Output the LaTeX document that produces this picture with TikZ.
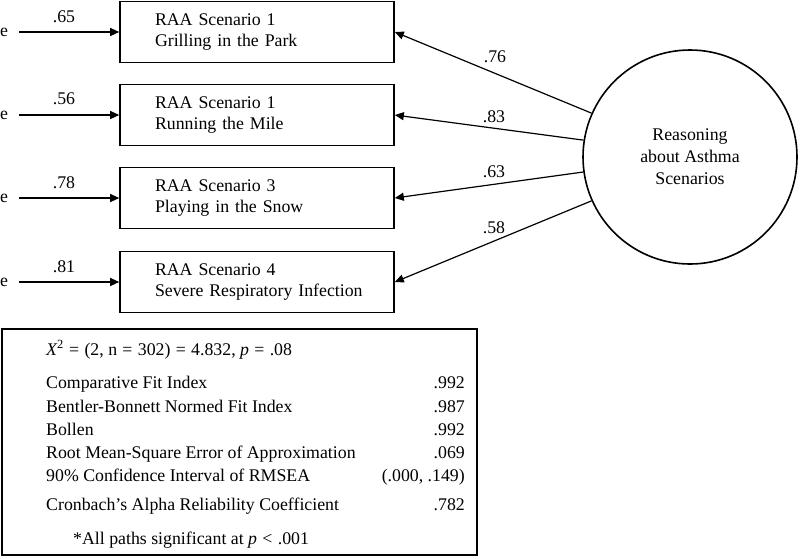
\documentclass[tikz,border=0pt]{standalone}
\usepackage{fontspec}
\setmainfont{Liberation Serif}
\usetikzlibrary{arrows.meta}
\begin{document}
\begin{tikzpicture}[x=1pt,y=-1pt,
  txt/.style={font=\fontsize{17.8}{21}\selectfont, inner sep=0pt},
  scen/.style={draw, line width=1.6pt, minimum width=274pt, minimum height=61pt, align=left, text width=204pt, font=\fontsize{17.8}{21}\selectfont, inner sep=0pt},
  arr/.style={line width=1.2pt, -{Triangle[length=9pt,width=8pt]}},
  lat/.style={draw, circle, line width=1.6pt, minimum size=214pt, align=center, font=\fontsize{17.8}{22}\selectfont, inner sep=0pt},
  lab/.style={font=\fontsize{17.8}{18}\selectfont, inner sep=0pt}
]
\useasboundingbox (0,0) rectangle (800,558);
\fill[white] (0,0) rectangle (800,558);

\node[scen] (b1) at (257,32) {\mbox{RAA Scenario 1}\\\mbox{Grilling in the Park}};
\node[scen] (b2) at (257,115) {\mbox{RAA Scenario 1}\\\mbox{Running the Mile}};
\node[scen] (b3) at (257,198) {\mbox{RAA Scenario 3}\\\mbox{Playing in the Snow}};
\node[scen] (b4) at (257,282) {\mbox{RAA Scenario 4}\\\mbox{Severe Respiratory Infection}};

\node[txt] (e1) at (4,32) {e};
\node[txt] (e2) at (4,115) {e};
\node[txt] (e3) at (4,198) {e};
\node[txt] (e4) at (4,282) {e};

\draw[arr] (e1.east) ++(11,0) coordinate (s1) -- (b1.west);
\draw[arr] (e2.east) ++(11,0) coordinate (s2) -- (b2.west);
\draw[arr] (e3.east) ++(11,0) coordinate (s3) -- (b3.west);
\draw[arr] (e4.east) ++(11,0) coordinate (s4) -- (b4.west);

\node[lab] (l1) at (64,17) {.65};
\node[lab] (l2) at (64,99) {.56};
\node[lab] (l3) at (64,183) {.78};
\node[lab] (l4) at (64,267) {.81};

\node[lat] (c) at (690,157) {Reasoning\\about Asthma\\Scenarios};

\draw[arr] (c.156) -- (b1.east);
\draw[arr] (c.171.5) -- (b2.east);
\draw[arr] (c.188.5) -- (b3.east);
\draw[arr] (c.204) -- (b4.east);

\node[lab] (k1) at (495,57) {.76};
\node[lab] (k2) at (494,117) {.83};
\node[lab] (k3) at (494,172) {.63};
\node[lab] (k4) at (494,228) {.58};

\node[draw, line width=1.6pt, minimum width=475pt, minimum height=226pt, inner sep=0pt] (stats) at (239.5,442) {};

\node[txt, anchor=base west] (t0) at (46,355) {{\itshape X}\textsuperscript{2}\hspace{0.3em}=\hspace{0.3em}(2, n\hspace{0.3em}=\hspace{0.3em}302)\hspace{0.3em}=\hspace{0.3em}4.832, {\itshape p}\hspace{0.3em}=\hspace{0.3em}.08};
\node[txt, anchor=base west] (t1) at (46,388) {Comparative Fit Index};
\node[txt, anchor=base west] (t2) at (46,412) {Bentler-Bonnett Normed Fit Index};
\node[txt, anchor=base west] (t3) at (46,435) {Bollen};
\node[txt, anchor=base west] (t4) at (46,458) {Root Mean-Square Error of Approximation};
\node[txt, anchor=base west] (t5) at (46,481) {90\% Confidence Interval of RMSEA};
\node[txt, anchor=base west] (t6) at (46,510) {Cronbach’s Alpha Reliability Coefficient};
\node[txt, anchor=base west] (t7) at (73,544) {*All paths significant at {\itshape p}\hspace{0.3em}<\hspace{0.3em}.001};

\node[txt, anchor=base east] (v1) at (465,388) {.992};
\node[txt, anchor=base east] (v2) at (465,412) {.987};
\node[txt, anchor=base east] (v3) at (465,435) {.992};
\node[txt, anchor=base east] (v4) at (465,458) {.069};
\node[txt, anchor=base east] (v5) at (465,481) {(.000, .149)};
\node[txt, anchor=base east] (v6) at (465,510) {.782};
\end{tikzpicture}
\end{document}
